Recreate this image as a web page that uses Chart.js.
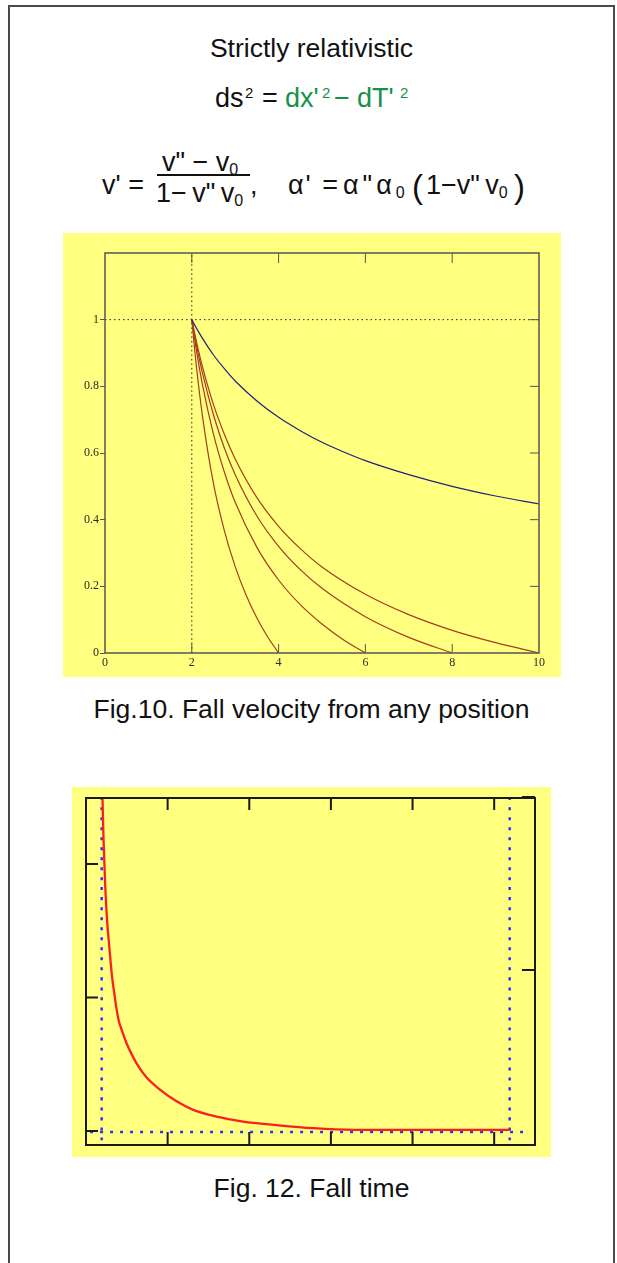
<!DOCTYPE html>
<html>
<head>
<meta charset="utf-8">
<script src="https://cdn.jsdelivr.net/npm/chart.js@4.4.1/dist/chart.umd.min.js"></script>
<style>
  body { margin: 0; width: 617px; height: 1263px; overflow: hidden; background: #fff; position: relative;
         font-family: "Liberation Sans", Arial, sans-serif; color: #111; }
  .page { position: absolute; left: 8px; top: 5px; width: 603px; height: 1300px;
          border: 2px solid #4a4a4a; border-bottom: none; }
  .t { position: absolute; font-size: 27px; line-height: 27px; white-space: pre; }
  .s { position: absolute; font-size: 15px; line-height: 15px; white-space: pre; }
  .c { position: absolute; left: 0; width: 623px; text-align: center; font-size: 26.5px; line-height: 27px; }
  .g { color: #14924a; }
  sub { font-size: 16px; vertical-align: -4px; line-height: 0; }
  .bar { position: absolute; height: 1.5px; background: #111; }
  .panel { position: absolute; background: #ffff80; }
  .panel canvas { display: block; }
</style>
</head>
<body>
<div class="page"></div>

<div class="c" style="top:35px">Strictly relativistic</div>

<div class="t" style="left:215px; top:85px">ds</div>
<div class="s" style="left:245px; top:85px">2</div>
<div class="t" style="left:262px; top:85px">=</div>
<div class="t g" style="left:285px; top:85px">dx'</div>
<div class="s g" style="left:322px; top:85px">2</div>
<div class="t g" style="left:334px; top:85px">&#8722;</div>
<div class="t g" style="left:357px; top:85px">dT'</div>
<div class="s g" style="left:400px; top:85px">2</div>

<div class="t" style="left:102px; top:172px">v' =</div>
<div class="t" style="left:162px; top:149px">v" &#8722; v<sub>0</sub></div>
<div class="bar" style="left:157px; top:174px; width:93px"></div>
<div class="t" style="left:156px; top:180px">1&#8722;&#8201;v"&#8201;v<sub>0</sub></div>
<div class="t" style="left:250px; top:172px">,</div>
<div class="t" style="left:288px; top:172px; letter-spacing:2px">&#945;' =</div>
<div class="t" style="left:343px; top:172px; letter-spacing:4px">&#945;"&#945;<sub style="letter-spacing:0">0</sub></div>
<div class="t" style="left:412px; top:170px; font-size:33px; line-height:33px">(</div>
<div class="t" style="left:426px; top:172px">1&#8722;v"&#8201;v<sub>0</sub></div>
<div class="t" style="left:514px; top:170px; font-size:33px; line-height:33px">)</div>

<div class="panel" style="left:63px; top:233px; width:498px; height:444px">
  <canvas id="velChart" width="498" height="444"></canvas>
</div>
<div class="c" style="top:696px">Fig.10. Fall velocity from any position</div>

<div class="panel" style="left:72px; top:787px; width:479px; height:370px">
  <canvas id="timeChart" width="479" height="370"></canvas>
</div>
<div class="c" style="top:1175px">Fig. 12. Fall time</div>

<script>
// Fig.10 - velocity curves
const blueX = [2, 2.1, 2.25, 2.5, 2.75, 3, 3.5, 4, 4.5, 5, 5.5, 6, 7, 8, 9, 10];
const blueV = [1, 0.976, 0.943, 0.894, 0.853, 0.816, 0.756, 0.707, 0.667, 0.632, 0.603, 0.577, 0.535, 0.5, 0.471, 0.447];

const redAX = [2, 2.1, 2.25, 2.5, 2.75, 3, 3.25, 3.5, 3.75, 4];
const redAV = [1, 0.867, 0.707, 0.508, 0.367, 0.259, 0.174, 0.105, 0.048, 0];
const redBX = [2, 2.1, 2.25, 2.5, 2.75, 3, 3.5, 4, 4.5, 5, 5.5, 6];
const redBV = [1, 0.913, 0.802, 0.656, 0.543, 0.452, 0.317, 0.219, 0.145, 0.087, 0.039, 0];
const redCX = [2, 2.1, 2.25, 2.5, 2.75, 3, 3.5, 4, 4.5, 5, 6, 7, 8];
const redCV = [1, 0.929, 0.838, 0.714, 0.615, 0.535, 0.411, 0.32, 0.25, 0.194, 0.109, 0.047, 0];
const redDX = [2, 2.1, 2.25, 2.5, 2.75, 3, 3.5, 4, 4.5, 5, 6, 7, 8, 9, 10];
const redDV = [1, 0.938, 0.857, 0.745, 0.656, 0.582, 0.466, 0.38, 0.313, 0.258, 0.176, 0.115, 0.068, 0.031, 0];

const velXTicks = [2, 4, 6, 8];
const velYTicks = [0.2, 0.4, 0.6, 0.8, 1];

// Fig.12 - fall time
const fallX = [0.198, 0.214, 0.235, 0.259, 0.284, 0.304, 0.324, 0.345, 0.37, 0.4, 0.441, 0.498, 0.551, 0.621, 0.743, 0.906, 1.11, 1.313, 1.6, 1.925, 2.334, 2.782, 3.272, 5.19];
const fallT = [2.6, 2.2, 1.84, 1.57, 1.39, 1.25, 1.13, 1.04, 0.93, 0.83, 0.75, 0.655, 0.585, 0.505, 0.4, 0.31, 0.222, 0.158, 0.107, 0.07, 0.044, 0.021, 0.009, 0.008];

const timeXTicks = [1, 2, 3, 4, 5];
const timeYTicks = [0, 1, 2];
const timeY2Ticks = [1, 2];

function pts(xs, ys) {
  return xs.map((x, i) => ({ x: x, y: ys[i] }));
}

// frame round the plot area plus inward tick marks
const frameTicks = {
  id: "frameTicks",
  afterDatasetsDraw(chart, args, o) {
    const ctx = chart.ctx;
    const a = chart.chartArea;
    ctx.save();
    ctx.strokeStyle = o.color;
    ctx.lineWidth = o.tickWidth;
    ctx.beginPath();
    o.ticks.forEach(t => {
      const s = chart.scales[t.scale];
      t.values.forEach(v => {
        const p = s.getPixelForValue(v);
        if (t.side === "bottom") { ctx.moveTo(p, a.bottom); ctx.lineTo(p, a.bottom - t.len); }
        if (t.side === "top") { ctx.moveTo(p, a.top); ctx.lineTo(p, a.top + t.len); }
        if (t.side === "left") { ctx.moveTo(a.left, p); ctx.lineTo(a.left + t.len, p); }
        if (t.side === "right") { ctx.moveTo(a.right, p); ctx.lineTo(a.right - t.len, p); }
      });
    });
    ctx.stroke();
    ctx.lineWidth = o.frameWidth;
    ctx.strokeRect(a.left, a.top, a.right - a.left, a.bottom - a.top);
    ctx.restore();
  }
};

const labelFont = { family: "'Liberation Serif', serif", size: 12 };

let velCtx = document.getElementById("velChart").getContext("2d");
let velChart = new Chart(velCtx, {
  type: "line",
  data: {
    datasets: [
      { data: pts(blueX, blueV), borderColor: "#22237a" },
      { data: pts(redAX, redAV), borderColor: "#a83c1e" },
      { data: pts(redBX, redBV), borderColor: "#a83c1e" },
      { data: pts(redCX, redCV), borderColor: "#a83c1e" },
      { data: pts(redDX, redDV), borderColor: "#a83c1e" },
      { data: pts([0, 10], [1, 1]), borderColor: "#222", borderDash: [1.5, 3], borderWidth: 1 },
      { data: pts([2, 2], [0, 1.2]), borderColor: "#222", borderDash: [1.5, 3], borderWidth: 1 }
    ]
  },
  options: {
    responsive: false,
    animation: false,
    layout: { padding: { top: 20, right: 22, left: 0, bottom: 0 } },
    elements: {
      point: { radius: 0 },
      line: { borderWidth: 1.2, cubicInterpolationMode: "monotone", fill: false }
    },
    plugins: {
      legend: { display: false },
      tooltip: { enabled: false },
      frameTicks: {
        color: "#555", tickWidth: 1, frameWidth: 1.5,
        ticks: [
          { scale: "x", side: "bottom", values: velXTicks, len: 9 },
          { scale: "x", side: "top", values: velXTicks, len: 10 },
          { scale: "y", side: "right", values: velYTicks, len: 9 }
        ]
      }
    },
    scales: {
      x: {
        type: "linear", min: 0, max: 10,
        ticks: { stepSize: 2, padding: 3, font: labelFont, color: "#2a2a2a", maxRotation: 0 },
        grid: { display: false, drawTicks: false },
        border: { display: false },
        afterFit: s => { s.height = 24; }
      },
      y: {
        type: "linear", min: 0, max: 1.2,
        ticks: {
          stepSize: 0.2, padding: 1, font: labelFont, color: "#2a2a2a",
          callback: v => (v > 1.001 ? null : String(Math.round(v * 10) / 10))
        },
        grid: { drawOnChartArea: false, tickLength: 5, color: "#555" },
        border: { display: false },
        afterFit: s => { s.width = 42; }
      }
    }
  },
  plugins: [frameTicks]
});

let timeCtx = document.getElementById("timeChart").getContext("2d");
let timeChart = new Chart(timeCtx, {
  type: "line",
  data: {
    datasets: [
      { data: pts(fallX, fallT), borderColor: "#ff1e1e", borderWidth: 2.3 },
      { data: pts([0.05, 5.37], [-0.008, -0.008]), borderColor: "#2f2fff", borderDash: [3, 7], borderWidth: 2.5 },
      { data: pts([0.192, 0.192], [-0.07, 2.494]), borderColor: "#2f2fff", borderDash: [3, 7], borderWidth: 2.5 },
      { data: pts([5.19, 5.19], [-0.07, 2.494]), borderColor: "#2f2fff", borderDash: [3, 7], borderWidth: 2.5 }
    ]
  },
  options: {
    responsive: false,
    animation: false,
    layout: { padding: { top: 11, right: 16, left: 14, bottom: 12 } },
    elements: {
      point: { radius: 0 },
      line: { cubicInterpolationMode: "monotone", fill: false }
    },
    plugins: {
      legend: { display: false },
      tooltip: { enabled: false },
      frameTicks: {
        color: "#1a1a1a", tickWidth: 2, frameWidth: 2,
        ticks: [
          { scale: "x", side: "bottom", values: timeXTicks, len: 13 },
          { scale: "x", side: "top", values: timeXTicks, len: 12 },
          { scale: "y", side: "left", values: timeYTicks, len: 12 },
          { scale: "y2", side: "right", values: timeY2Ticks, len: 13 }
        ]
      }
    },
    scales: {
      x: { type: "linear", min: 0, max: 5.5, display: false },
      y: { type: "linear", min: -0.105, max: 2.494, display: false },
      y2: { type: "linear", axis: "y", position: "right", min: -0.0116, max: 1.9942, display: false }
    }
  },
  plugins: [frameTicks]
});
</script>
</body>
</html>
